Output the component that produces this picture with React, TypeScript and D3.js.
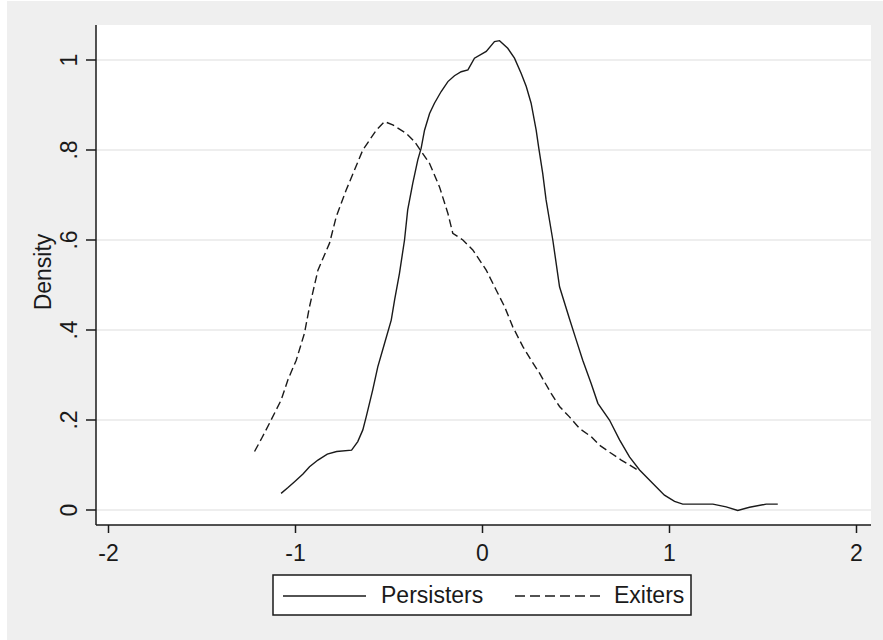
import React from "react";
import * as d3 from "d3";

// kernel density estimates
const persistersX = [-1.077, -1.04, -1.005, -0.96, -0.925, -0.88, -0.83, -0.78, -0.7, -0.667, -0.64, -0.622, -0.587, -0.56, -0.524, -0.488, -0.47, -0.444, -0.417, -0.4, -0.373, -0.346, -0.328, -0.31, -0.283, -0.257, -0.221, -0.185, -0.15, -0.114, -0.078, -0.043, 0.02, 0.064, 0.091, 0.135, 0.171, 0.207, 0.234, 0.26, 0.287, 0.301, 0.322, 0.34, 0.376, 0.412, 0.465, 0.501, 0.536, 0.581, 0.617, 0.679, 0.733, 0.786, 0.84, 0.911, 0.973, 1.027, 1.071, 1.232, 1.303, 1.365, 1.428, 1.517, 1.579];
const persistersY = [0.037, 0.05, 0.063, 0.08, 0.096, 0.111, 0.124, 0.13, 0.133, 0.152, 0.178, 0.207, 0.267, 0.318, 0.37, 0.422, 0.467, 0.526, 0.6, 0.667, 0.726, 0.778, 0.804, 0.844, 0.881, 0.904, 0.93, 0.952, 0.965, 0.974, 0.978, 1.004, 1.019, 1.041, 1.043, 1.026, 1.004, 0.97, 0.941, 0.904, 0.844, 0.804, 0.748, 0.689, 0.6, 0.496, 0.425, 0.378, 0.333, 0.281, 0.237, 0.2, 0.156, 0.118, 0.089, 0.059, 0.033, 0.019, 0.013, 0.013, 0.007, -0.001, 0.006, 0.013, 0.013];

const exitersX = [-1.219, -1.18, -1.139, -1.077, -1.04, -0.996, -0.952, -0.925, -0.88, -0.818, -0.782, -0.729, -0.684, -0.64, -0.568, -0.524, -0.48, -0.408, -0.364, -0.283, -0.23, -0.185, -0.159, -0.105, -0.052, 0.02, 0.073, 0.118, 0.162, 0.216, 0.26, 0.305, 0.367, 0.412, 0.465, 0.519, 0.581, 0.626, 0.688, 0.742, 0.786, 0.83];
const exitersY = [0.13, 0.16, 0.193, 0.244, 0.29, 0.333, 0.393, 0.452, 0.533, 0.593, 0.652, 0.711, 0.756, 0.8, 0.844, 0.863, 0.856, 0.837, 0.819, 0.77, 0.718, 0.659, 0.615, 0.6, 0.578, 0.533, 0.489, 0.452, 0.407, 0.363, 0.333, 0.304, 0.259, 0.23, 0.207, 0.181, 0.163, 0.144, 0.126, 0.111, 0.1, 0.089];

const xTicks = [-2, -1, 0, 1, 2];
const yTicks = [0, 0.2, 0.4, 0.6, 0.8, 1];
const yTickLabels = ["0", ".2", ".4", ".6", ".8", "1"];
const seriesNames = ["Persisters", "Exiters"];

const W = 883;
const H = 640;
const plot = { left: 96, right: 871, top: 25, bottom: 525 };
const font = "'Liberation Sans', Arial, sans-serif";
const ink = "#1a1a1a";

export default function App() {
  const x = d3.scaleLinear().domain([-2, 2]).range([108.5, 856.5]);
  const y = d3.scaleLinear().domain([0, 1]).range([510, 60]);

  const line = d3
    .line<[number, number]>()
    .x((d) => x(d[0]))
    .y((d) => y(d[1]));

  const persisters = persistersX.map((v, i) => [v, persistersY[i]] as [number, number]);
  const exiters = exitersX.map((v, i) => [v, exitersY[i]] as [number, number]);

  return (
    <svg
      width={W}
      height={H}
      style={{ position: "absolute", left: 0, top: 0 }}
      fontFamily={font}
    >
      <rect x={0} y={0} width={W} height={H} fill="#ffffff" />
      <rect x={7} y={1} width={W - 7} height={H - 1} fill="#efefef" />
      <rect
        x={plot.left}
        y={plot.top}
        width={plot.right - plot.left}
        height={plot.bottom - plot.top}
        fill="#ffffff"
      />

      {/* grid */}
      {yTicks.map((t) => (
        <line
          key={"g" + t}
          x1={plot.left}
          x2={plot.right}
          y1={y(t)}
          y2={y(t)}
          stroke="#e8e8e8"
          strokeWidth={1.5}
        />
      ))}

      {/* curves */}
      <path d={line(persisters) ?? ""} fill="none" stroke={ink} strokeWidth={1.4} />
      <path
        d={line(exiters) ?? ""}
        fill="none"
        stroke={ink}
        strokeWidth={1.4}
        strokeDasharray="8,4"
      />

      {/* axes */}
      <line x1={plot.left} x2={plot.left} y1={plot.top} y2={plot.bottom} stroke={ink} strokeWidth={1.5} />
      <line x1={plot.left} x2={plot.right} y1={plot.bottom} y2={plot.bottom} stroke={ink} strokeWidth={1.5} />

      {yTicks.map((t, i) => (
        <g key={"y" + t}>
          <line x1={plot.left - 10} x2={plot.left} y1={y(t)} y2={y(t)} stroke={ink} strokeWidth={1.5} />
          <text
            transform={`translate(76.5,${y(t)}) rotate(-90)`}
            textAnchor="middle"
            fontSize={23}
            fill={ink}
          >
            {yTickLabels[i]}
          </text>
        </g>
      ))}

      {xTicks.map((t) => (
        <g key={"x" + t}>
          <line x1={x(t)} x2={x(t)} y1={plot.bottom} y2={plot.bottom + 8} stroke={ink} strokeWidth={1.5} />
          <text x={x(t)} y={561} textAnchor="middle" fontSize={23} fill={ink}>
            {d3.format("d")(t).replace("−", "-")}
          </text>
        </g>
      ))}

      <text
        transform={`translate(51,${(plot.top + plot.bottom) / 2 - 3}) rotate(-90)`}
        textAnchor="middle"
        fontSize={23}
        fill={ink}
      >
        Density
      </text>

      {/* legend */}
      <rect x={273} y={575} width={418} height={40} fill="#ffffff" stroke={ink} strokeWidth={1.5} />
      <line x1={283} x2={366} y1={596} y2={596} stroke={ink} strokeWidth={1.4} />
      <text x={381} y={603} fontSize={23} fill={ink}>
        {seriesNames[0]}
      </text>
      <line x1={515} x2={600} y1={596} y2={596} stroke={ink} strokeWidth={1.4} strokeDasharray="10,5" />
      <text x={614} y={603} fontSize={23} fill={ink}>
        {seriesNames[1]}
      </text>
    </svg>
  );
}
